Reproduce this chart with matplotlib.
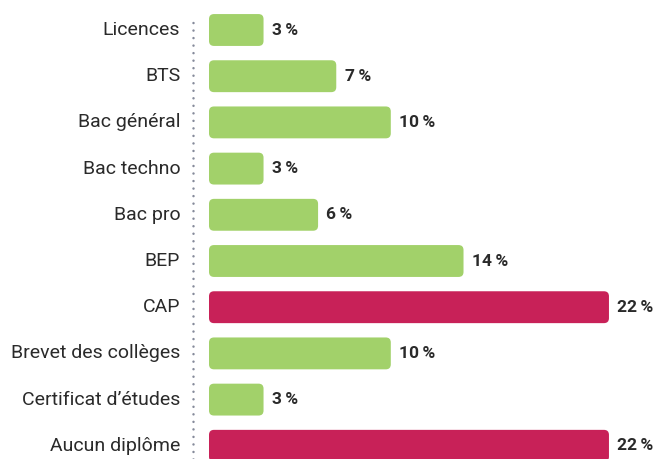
import matplotlib

matplotlib.use("Agg")
import matplotlib.pyplot as plt
from matplotlib.patches import FancyBboxPatch

categories = [
    "Licences",
    "BTS",
    "Bac général",
    "Bac techno",
    "Bac pro",
    "BEP",
    "CAP",
    "Brevet des collèges",
    "Certificat d’études",
    "Aucun diplôme",
]
values = [3, 7, 10, 3, 6, 14, 22, 10, 3, 22]
highlight = ["CAP", "Aucun diplôme"]

GREEN = "#a2d16a"
RED = "#c82158"
TEXT = "#2a2a2a"

plt.rcParams["font.family"] = ["Roboto", "DejaVu Sans"]

fig = plt.figure(figsize=(6.57, 4.59), dpi=100)
# axes spans from pixel x=185 to the right edge, full height
ax = fig.add_axes([185 / 657, 0, 1 - 185 / 657, 1])

px_per_unit = 18.18
row_px = 46.2
ax.set_xlim(-(209 - 185) / px_per_unit, (657 - 209) / px_per_unit)
ax.set_ylim((459 - 30) / row_px, -30 / row_px)

ypos = list(range(len(categories)))
colors = [RED if c in highlight else GREEN for c in categories]
bars = ax.barh(ypos, values, height=0.69, color=colors)

# swap plain bars for rounded ones
rx = 5 / px_per_unit
ry = 5 / row_px
for bar, col in zip(bars, colors):
    x, y = bar.get_x(), bar.get_y()
    w, h = bar.get_width(), bar.get_height()
    bar.remove()
    ax.add_patch(
        FancyBboxPatch(
            (x, y),
            w,
            h,
            boxstyle=f"round,pad=0,rounding_size={rx}",
            mutation_aspect=ry / rx,
            facecolor=col,
            edgecolor="none",
        )
    )

for y, v in zip(ypos, values):
    ax.annotate(
        f"{v}\u2009%",
        xy=(v, y),
        xytext=(6, 0),
        textcoords="offset points",
        va="center",
        ha="left",
        fontsize=12.5,
        fontweight="bold",
        color=TEXT,
    )

for y, c in zip(ypos, categories):
    ax.annotate(
        c,
        xy=(0, y),
        xycoords=("axes fraction", "data"),
        xytext=(-3.5, 0),
        textcoords="offset points",
        va="center",
        ha="right",
        fontsize=14,
        color=TEXT,
        annotation_clip=False,
    )

# dotted baseline
ax.plot(
    [-(209 - 193) / px_per_unit] * 2,
    [(459 - 30) / row_px, (16 - 30) / row_px],
    color="#858a9a",
    lw=1.8,
    linestyle=(0, (0.01, 3.0)),
    dash_capstyle="round",
)

ax.axis("off")
fig.savefig("out.png", dpi=100)
